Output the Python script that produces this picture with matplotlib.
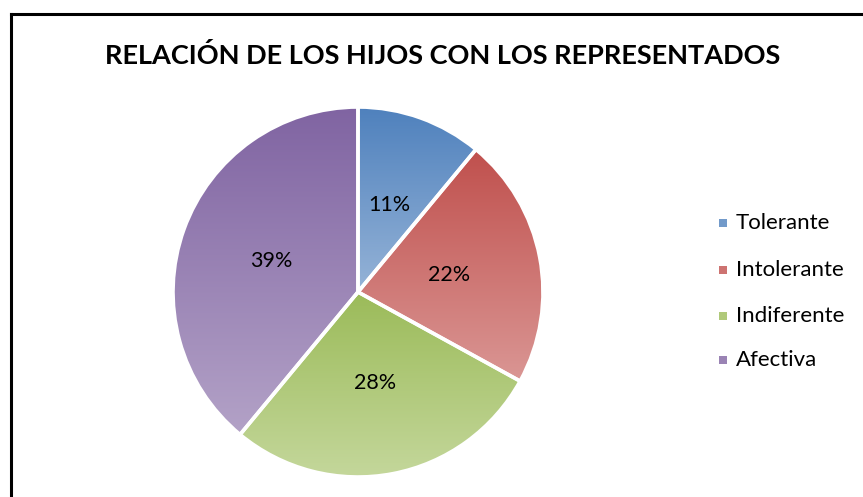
import numpy as np
import matplotlib
matplotlib.use("Agg")
import matplotlib.pyplot as plt
from matplotlib.colors import to_rgb
from matplotlib.lines import Line2D
from matplotlib.patches import Rectangle

title = "RELACIÓN DE LOS HIJOS CON LOS REPRESENTADOS"
categories = ["Tolerante", "Intolerante", "Indiferente", "Afectiva"]
values = [11, 22, 28, 39]
top_colors = ["#4F81BD", "#C0504D", "#9BBB59", "#8064A2"]
bottom_colors = ["#95B3D7", "#DA9694", "#C4D79B", "#B3A2C7"]

W, H = 863, 497
fig = plt.figure(figsize=(W / 100, H / 100), dpi=100)
plt.rcParams['font.family'] = ['Lato', 'DejaVu Sans']

# frame (cropped chart border)
fig.add_artist(Line2D([10.5 / W, 10.5 / W], [0, 1 - 13.5 / H], color="black", lw=2.2, transform=fig.transFigure))
fig.add_artist(Line2D([10.5 / W, 1], [1 - 13.5 / H, 1 - 13.5 / H], color="black", lw=2.2, transform=fig.transFigure))

cx, cy, R = 358, 292, 185
P = 192
ax = fig.add_axes([(cx - P) / W, (H - cy - P) / H, 2 * P / W, 2 * P / H])
lim = P / R
ax.set_xlim(-lim, lim)
ax.set_ylim(-lim, lim)
ax.set_aspect("equal")
ax.axis("off")

wedges, texts, autotexts = ax.pie(values, startangle=90, counterclock=False, radius=1,
                                  autopct="%1.0f%%", pctdistance=0.5,
                                  wedgeprops=dict(edgecolor="white", linewidth=2.6),
                                  textprops=dict(fontsize=15.5, color="black"))
for w, tc, bc in zip(wedges, top_colors, bottom_colors):
    ext = w.get_path().get_extents()
    t = np.array(to_rgb(tc))
    b = np.array(to_rgb(bc))
    f = np.linspace(0, 1, 256)[:, None]
    grad = (t[None, :] * (1 - f) + b[None, :] * f)[:, None, :]
    im = ax.imshow(grad, extent=[ext.x0, ext.x1, ext.y0, ext.y1], origin="upper",
                   aspect="auto", interpolation="bilinear", zorder=1)
    im.set_clip_path(w)
    w.set_facecolor("none")
    w.set_zorder(2)
for at in autotexts:
    at.set_zorder(3)
ax.set_xlim(-lim, lim)
ax.set_ylim(-lim, lim)

fig.text(443 / W, 1 - 55 / H, title, ha="center", va="center", fontsize=19.5, fontweight="bold")

ys = [223, 270, 316, 360]
for cat, tc, bc, y in zip(categories, top_colors, bottom_colors, ys):
    mid = (np.array(to_rgb(tc)) + np.array(to_rgb(bc))) / 2
    fig.add_artist(Rectangle(((719) / W, 1 - (y + 4) / H), 8 / W, 8 / H, transform=fig.transFigure,
                             facecolor=mid, edgecolor="none"))
    fig.text(736 / W, 1 - y / H, cat, ha="left", va="center", fontsize=16)

fig.savefig("out.png", dpi=100)
